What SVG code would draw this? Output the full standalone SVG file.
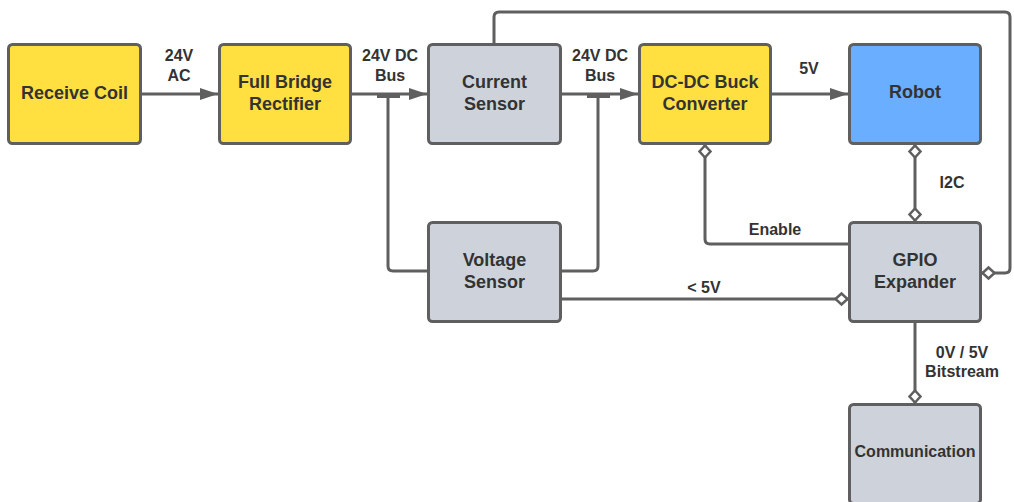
<svg xmlns="http://www.w3.org/2000/svg" width="1014" height="502" viewBox="0 0 1014 502">
<style>
.box{stroke:#5f5f5f;stroke-width:3}
.y{fill:#FFE040}
.g{fill:#CED3DB}
.b{fill:#69AEFF}
.t{font-family:"Liberation Sans",Arial,sans-serif;font-weight:bold;font-size:18px;fill:#333333;text-anchor:middle}
.l{font-family:"Liberation Sans",Arial,sans-serif;font-weight:bold;font-size:16px;fill:#333333;text-anchor:middle}
.c{fill:none;stroke:#5f5f5f;stroke-width:3;stroke-linejoin:round}
</style>
<defs>
<marker id="arrow" markerUnits="userSpaceOnUse" markerWidth="20" markerHeight="14" viewBox="0 -7 20 14" refX="18" refY="0" orient="auto">
<path d="M0,-6 L18,0 L0,6 Z" fill="#5f5f5f"/>
</marker>
<marker id="dia" markerUnits="userSpaceOnUse" markerWidth="16" markerHeight="16" viewBox="-1 -8 16 16" refX="13.5" refY="0" orient="auto-start-reverse">
<path d="M1,0 L7,-5.5 L13,0 L7,5.5 Z" fill="#ffffff" stroke="#5f5f5f" stroke-width="2.5"/>
</marker>
</defs>
<g id="connectors">
<path class="c" d="M141,94 H218" marker-end="url(#arrow)"/>
<path class="c" d="M351,94 H427" marker-end="url(#arrow)"/>
<path class="c" d="M561,94 H638" marker-end="url(#arrow)"/>
<path class="c" d="M771,94 H848" marker-end="url(#arrow)"/>
<path class="c" d="M377,96.5 H400"/>
<path class="c" d="M388,96 V266 Q388,271 393,271 H428"/>
<path class="c" d="M587,96.5 H610"/>
<path class="c" d="M598,96 V266 Q598,271 593,271 H561"/>
<path class="c" d="M561,299 H848" marker-end="url(#dia)"/>
<path class="c" d="M494,44 V17 Q494,12 499,12 H1005 Q1010,12 1010,17 V268 Q1010,273 1005,273 H982" marker-end="url(#dia)"/>
<path class="c" d="M849,244 H710 Q705,244 705,239 V145" marker-end="url(#dia)"/>
<path class="c" d="M915,145 V221" marker-start="url(#dia)" marker-end="url(#dia)"/>
<path class="c" d="M915,322 V403" marker-end="url(#dia)"/>
</g>
<g id="receive-coil">
<rect class="box y" x="8.5" y="44.5" width="132" height="99" rx="4"/>
<text class="t" x="74.5" y="98.5">Receive Coil</text>
</g>
<g id="full-bridge-rectifier">
<rect class="box y" x="219.5" y="44.5" width="131" height="99" rx="4"/>
<text class="t" x="285" y="87.5">Full Bridge</text>
<text class="t" x="285" y="109.5">Rectifier</text>
</g>
<g id="current-sensor">
<rect class="box g" x="428.5" y="44.5" width="132" height="99" rx="4"/>
<text class="t" x="494.5" y="87.5">Current</text>
<text class="t" x="494.5" y="109.5">Sensor</text>
</g>
<g id="dc-dc-buck-converter">
<rect class="box y" x="639.5" y="44.5" width="131" height="99" rx="4"/>
<text class="t" x="705" y="87.5">DC-DC Buck</text>
<text class="t" x="705" y="109.5">Converter</text>
</g>
<g id="robot">
<rect class="box b" x="849.5" y="44.5" width="131" height="99" rx="4"/>
<text class="t" x="915" y="97.5">Robot</text>
</g>
<g id="voltage-sensor">
<rect class="box g" x="428.5" y="222.5" width="132" height="99" rx="4"/>
<text class="t" x="494.5" y="265.5">Voltage</text>
<text class="t" x="494.5" y="288">Sensor</text>
</g>
<g id="gpio-expander">
<rect class="box g" x="849.5" y="222.5" width="131" height="99" rx="4"/>
<text class="t" x="915" y="265.5">GPIO</text>
<text class="t" x="915" y="288">Expander</text>
</g>
<g id="communication">
<rect class="box g" x="849.5" y="404.5" width="131" height="99" rx="4"/>
<text class="l" x="915" y="457">Communication</text>
</g>
<g id="labels">
<text class="l" x="179" y="61">24V</text>
<text class="l" x="179" y="81">AC</text>
<text class="l" x="390" y="61">24V DC</text>
<text class="l" x="390" y="81">Bus</text>
<text class="l" x="600" y="61">24V DC</text>
<text class="l" x="600" y="81">Bus</text>
<text class="l" x="809" y="74">5V</text>
<text class="l" x="952" y="188">I2C</text>
<text class="l" x="775" y="235">Enable</text>
<text class="l" x="704" y="293">&lt; 5V</text>
<text class="l" x="962" y="358">0V / 5V</text>
<text class="l" x="962" y="377">Bitstream</text>
</g>
</svg>
